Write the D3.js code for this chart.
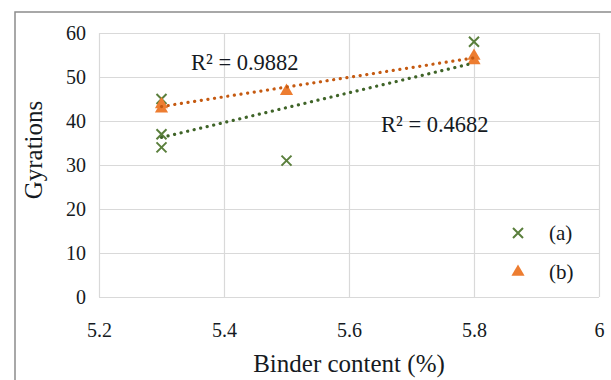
<!DOCTYPE html>
<html>
<head>
<meta charset="utf-8">
<script src="https://cdn.jsdelivr.net/npm/d3@7"></script>
<style>
  html, body { margin: 0; padding: 0; background: #fff; }
  svg { display: block; }
  text { font-family: "Liberation Serif", "Times New Roman", serif; fill: #151a22; }
</style>
</head>
<body>
<svg id="chart" width="611" height="380"></svg>
<script>
// ---- data ----
const seriesNames = ["(a)", "(b)"];
const seriesAX = [5.3, 5.3, 5.3, 5.5, 5.8];
const seriesAY = [45, 37, 34, 31, 58];
const seriesBX = [5.3, 5.3, 5.5, 5.8, 5.8];
const seriesBY = [43, 44, 47, 54, 55];
const r2Labels = ["R\u00B2 = 0.4682", "R\u00B2 = 0.9882"];
const xTicks = [5.2, 5.4, 5.6, 5.8, 6];
const yTicks = [0, 10, 20, 30, 40, 50, 60];
const xTitle = "Binder content (%)";
const yTitle = "Gyrations";

// ---- layout ----
const plot = { left: 99, right: 599, top: 33, bottom: 297 };
const colA = "#5a7f3c", colB = "#ed7d31";
const trendA = "#3f6428", trendB = "#c55a11";

const svg = d3.select("#chart");
const x = d3.scaleLinear().domain([5.2, 6]).range([plot.left, plot.right]);
const y = d3.scaleLinear().domain([0, 60]).range([plot.bottom, plot.top]);

// outer frame
svg.append("rect").attr("x", 15).attr("y", 12).attr("width", 800).attr("height", 600)
  .attr("fill", "#fff").attr("stroke", "#8c8c8c").attr("stroke-width", 1.5);

// gridlines via axes
const gx = svg.append("g").attr("transform", `translate(0,${plot.bottom})`)
  .call(d3.axisBottom(x).tickValues(xTicks).tickSize(-(plot.bottom - plot.top)).tickFormat(d3.format("")));
gx.select(".domain").remove();
gx.selectAll(".tick line").attr("stroke", "#d9d9d9").attr("stroke-width", 1.2);
gx.selectAll(".tick text").attr("y", 0).attr("dy", "40px").attr("font-size", "20px");

const gy = svg.append("g").attr("transform", `translate(${plot.left},0)`)
  .call(d3.axisLeft(y).tickValues(yTicks).tickSize(-(plot.right - plot.left)));
gy.select(".domain").remove();
gy.selectAll(".tick line").attr("stroke", "#d9d9d9").attr("stroke-width", 1.2);
gy.selectAll(".tick text").attr("x", -13).attr("dy", "0.34em").attr("font-size", "20px");

// axis titles
svg.append("text").attr("x", (plot.left + plot.right) / 2).attr("y", 372)
  .attr("text-anchor", "middle").attr("font-size", "25px").text(xTitle);
svg.append("text").attr("transform", "translate(42,150) rotate(-90)")
  .attr("text-anchor", "middle").attr("font-size", "25px").text(yTitle);

// markers
function drawX(g, cx, cy, col) {
  const s = 5;
  g.append("path").attr("d", `M${cx - s},${cy - s}L${cx + s},${cy + s}M${cx - s},${cy + s}L${cx + s},${cy - s}`)
    .attr("stroke", col).attr("stroke-width", 2).attr("fill", "none");
}
const tri = d3.symbol().type(d3.symbolTriangle).size(75);
function drawTri(g, cx, cy, col) {
  g.append("path").attr("d", tri()).attr("transform", `translate(${cx},${cy + 1})`).attr("fill", col);
}

const marks = svg.append("g");
seriesAX.forEach((d, i) => drawX(marks, x(d), y(seriesAY[i]), colA));
seriesBX.forEach((d, i) => drawTri(marks, x(d), y(seriesBY[i]), colB));

// linear trendlines (least squares from the data)
function fit(xs, ys) {
  const mx = d3.mean(xs), my = d3.mean(ys);
  let sxy = 0, sxx = 0;
  xs.forEach((v, i) => { sxy += (v - mx) * (ys[i] - my); sxx += (v - mx) * (v - mx); });
  const b = sxy / sxx, a = my - b * mx;
  const x0 = d3.min(xs), x1 = d3.max(xs);
  return [[x0, a + b * x0], [x1, a + b * x1]];
}
const line = d3.line().x(d => x(d[0])).y(d => y(d[1]));
[[seriesAX, seriesAY, trendA], [seriesBX, seriesBY, trendB]].forEach(([xs, ys, c]) => {
  svg.append("path").attr("d", line(fit(xs, ys))).attr("fill", "none")
    .attr("stroke", c).attr("stroke-width", 3.2).attr("stroke-linecap", "round")
    .attr("stroke-dasharray", "0.1,6.6");
});

// R² labels
svg.append("text").attr("x", 191).attr("y", 70).attr("font-size", "22.5px").text(r2Labels[1]);
svg.append("text").attr("x", 381).attr("y", 132).attr("font-size", "22.5px").text(r2Labels[0]);

// legend
const leg = svg.append("g");
drawX(leg, 518, 233, colA);
drawTri(leg, 518, 271, colB);
leg.append("text").attr("x", 549).attr("y", 233).attr("dy", "0.34em").attr("font-size", "21px").text(seriesNames[0]);
leg.append("text").attr("x", 549).attr("y", 272).attr("dy", "0.34em").attr("font-size", "21px").text(seriesNames[1]);
</script>
</body>
</html>
